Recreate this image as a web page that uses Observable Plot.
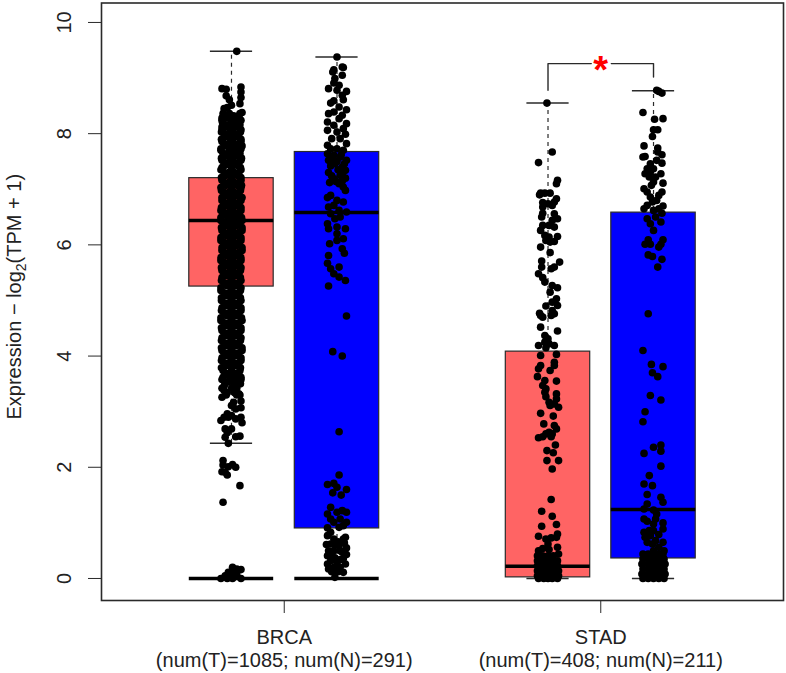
<!DOCTYPE html>
<html><head><meta charset="utf-8">
<style>html,body{margin:0;padding:0;background:#fff}svg{display:block}</style>
<script src="https://cdn.jsdelivr.net/npm/d3@7"></script>
<script src="https://cdn.jsdelivr.net/npm/@observablehq/plot@0.6"></script>
</head><body><div id="chart"></div>
<script>
const cancerTicks = [1.5, 4.5];
const cancerLabels = ["BRCA\n(num(T)=1085; num(N)=291)", "STAD\n(num(T)=408; num(N)=211)"];
const boxPos = [1, 2, 4, 5];
const boxFill = ["#ff6464", "#0000ff", "#ff6464", "#0000ff"];
const q1 = [5.25, 0.9, 0.02, 0.36];
const median = [6.44, 6.58, 0.22, 1.24];
const q3 = [7.2, 7.67, 4.08, 6.58];
const whiskerLow = [2.43, 0, 0, 0];
const whiskerHigh = [9.48, 9.38, 8.55, 8.77];
const zeroBars = [1, 2];
const bracketX = [4, 4, 4.41];
const bracketY = [8.78, 9.26, 9.26];
const bracketX2 = [4.6, 5, 5];
const bracketY2 = [9.26, 9.26, 9.02];

// [jitter, value]
const brcaTSparse = [[.05,9.48],[-.09,8.81],[-.05,8.8],[.09,8.84],[.09,8.75],[-.05,8.68],[.09,8.65],[-.02,8.61],[.08,8.54],[0,8.51],[-.07,8.45],[-.04,8.47],[.1,8.38],
[-.09,3.26],[-.07,3.38],[.07,3.32],[.02,3.17],[.09,3.19],[0,3.11],[.09,3.07],[.04,3.05],[-.04,2.96],[0,2.93],[-.07,2.9],[.09,2.9],[-.1,2.84],[.04,2.87],[.1,2.8],[-.03,2.9],[-.06,2.69],[0,2.69],[-.06,2.54],[.04,2.55],[.08,2.56],[-.03,2.43],[-.04,2.62],
[-.08,2.12],[-.08,2.04],[.01,2.05],[.04,2],[-.03,2.01],[-.09,1.92],[-.06,1.91],[-.04,1.86],[.08,1.67],[-.08,1.37],
[.01,.2],[.09,.16],[.05,.17],[-.03,.11],[.01,.11],[.05,.08],[-.06,.05],[.01,.04],[-.1,0],[.09,0],[-.04,0],[.01,0]];
// [value, jitter, jitter, ...]
const brcaTRows = [[8.36,-.08,-.02,.08],[8.28,-.09,-.04,.05],[8.2,-.085,0,.075],[8.12,-.09,-.045,.05],[8.03,-.095,0,.085],[7.95,-.05,.045],[7.86,-.09,0,.09],[7.78,-.06,.05,.1],[7.7,-.1,-.02,.08],[7.6,-.05,.05],[7.52,-.09,0,.09],[7.43,-.06,.05],[7.35,-.1,0,.09],[7.25,-.05,.05],[7.16,-.09,0,.09],[7.07,-.05,.05,.095],[6.98,-.095,0,.085],[6.89,-.05,.05],[6.8,-.09,0,.09],[6.71,-.05,.05],[6.62,-.1,0,.09],[6.53,-.05,.05],[6.44,-.1,0,.1],[6.35,-.05,.05],[6.26,-.09,0,.1],[6.17,-.05,.05],[6.08,-.1,0,.09],[5.99,-.05,.05],[5.9,-.09,0,.1],[5.81,-.05,.05],[5.72,-.1,0,.09],[5.63,-.05,.05],[5.54,-.09,0,.085],[5.45,-.05,.05],[5.36,-.095,0,.09],[5.27,-.05,.05],[5.18,-.1,0,.085],[5.09,-.05,.05],[5,-.095,0,.09],[4.91,-.05,.05],[4.82,-.095,0,.09],[4.73,-.05,.05],[4.64,-.1,0,.1],[4.55,-.05,.05],[4.46,-.09,0,.09],[4.37,-.05,.05],[4.28,-.095,0,.085],[4.19,-.05,.05],[4.1,-.09,0,.1],[4.01,-.05,.05],[3.92,-.095,0,.09],[3.83,-.05,.05],[3.74,-.08,0,.08],[3.66,-.04,.05],[3.58,-.09,0,.09],[3.5,-.06,.03,.085],[3.42,-.09,0,.05]];
const brcaTFill = [[8.32,-.05,.02,.07],[8.16,-.06,-.01,.03,.08],[8,-.07,-.025,.025,.07],[7.82,-.07,-.025,.025,.07],[7.65,-.08,-.02,.03,.08],[7.48,-.07,-.025,.025,.07],[7.3,-.07,-.025,.025,.07],[7.12,-.07,-.025,.025,.07],[6.94,-.07,-.025,.025,.07],[6.76,-.07,-.025,.025,.07],[6.58,-.07,-.025,.025,.07],[6.4,-.07,-.025,.025,.07],[6.22,-.07,-.025,.025,.07],[6.04,-.07,-.025,.025,.07],[5.86,-.07,-.025,.025,.07],[5.68,-.07,-.025,.025,.07],[5.5,-.07,-.025,.025,.07],[5.32,-.07,-.025,.025,.07],[5.14,-.07,-.025,.025,.07],[4.96,-.07,-.025,.025,.07],[4.78,-.07,-.025,.025,.07],[4.6,-.07,-.025,.025,.07],[4.42,-.07,-.025,.025,.07],[4.24,-.07,-.025,.025,.07],[4.06,-.07,-.025,.025,.07],[3.88,-.07,-.025,.025,.07],[3.7,-.06,.02,.07],[3.54,-.03,.05],[3.34,-.04,.03]];
const brcaTEdge = [[8.24,-.09,.01,.09],[8.07,-.09,0,.09],[7.9,-.095,0,.09],[7.73,-.1,.02,.09],[7.56,-.095,0,.095],[7.39,-.09,0,.085],[7.21,-.095,0,.09],[7.03,-.1,0,.09],[6.85,-.09,0,.1],[6.67,-.095,0,.09],[6.49,-.1,0,.095],[6.31,-.095,0,.1],[6.13,-.1,0,.09],[5.95,-.09,0,.1],[5.77,-.1,0,.09],[5.59,-.095,0,.09],[5.41,-.09,0,.085],[5.23,-.1,0,.09],[5.05,-.095,0,.085],[4.87,-.09,0,.09],[4.69,-.1,0,.095],[4.51,-.095,0,.09],[4.33,-.09,0,.09],[4.15,-.095,0,.1],[3.97,-.09,0,.09],[3.79,-.095,0,.085],[3.62,-.08,0,.09],[3.46,-.07,.02],[3.3,-.05,.05,.08]];
const brcaN = [[0,9.38],[.05,9.2],[-.03,9.15],[.06,9.19],[-.04,9.11],[.05,9.05],[-.02,8.99],[-.03,8.91],[.02,8.87],[-.08,8.81],[.09,8.76],[0,8.78],[.05,8.69],[.06,8.61],[-.03,8.59],[-.06,8.55],[.02,8.48],[.09,8.43],[-.08,8.36],[-.03,8.39],[.05,8.33],[.02,8.27],[-.09,8.21],[.09,8.18],[-.03,8.15],[.06,8.09],[-.09,8.06],[0,8.03],[.08,7.99],[-.05,7.91],[.03,7.91],[-.09,7.79],[.09,7.82],[-.06,7.73],[0,7.73],[.06,7.7],[-.09,7.64],[-.03,7.61],[.03,7.58],[.09,7.52],[-.08,7.52],[-.02,7.46],[.05,7.4],[.08,7.34],[-.08,7.3],[-.03,7.19],[.03,7.25],[.06,7.04],[.02,7.1],[.08,6.98],[-.06,6.89],[-.09,6.85],[0,6.8],[.06,6.77],[-.03,6.71],[-.08,6.68],[.02,6.62],[.09,6.59],[-.06,6.56],[-.02,6.47],[-.09,6.38],[.03,6.5],[-.08,6.29],[0,6.32],[.08,6.29],[0,6.2],[.06,6.11],[0,6.08],[-.07,6.02],[.05,5.93],[.07,5.85],[-.08,5.81],[-.09,5.67],[.02,5.6],[-.06,5.57],[-.03,5.48],[.02,5.42],[.08,5.36],[-.08,5.26],
[.04,7.62],[-.05,7.55],[0,7.5],[.07,7.46],[-.06,7.42],[.01,7.35],[.05,7.29],[-.05,7.24],[.08,7.2],[-.01,7.14],[-.07,7.12],[.05,7.15],
[.09,4.72],[-.04,4.08],[.05,4],[.02,2.64],[.02,1.86],[-.09,1.69],[-.03,1.71],[0,1.64],[.09,1.6],[-.04,1.54],[.04,1.5],[-.06,1.28],[.05,1.22],[.09,1.19],[0,1.19],[-.09,1.16],[-.06,1.07],[-.03,1.01],[.03,1.07],[.09,1.01],[.06,.95],[.02,.92],[-.09,.91],
[-.06,.83],[.08,.74],[-.09,.77],[-.03,.71],[-.06,.62],[.06,.71],[-.1,.61],[.02,.59],[.09,.55],[-.03,.5],[-.09,.41],[.05,.47],[.09,.43],[-.02,.37],[-.06,.32],[.03,.34],[-.09,.26],[.08,.26],[-.03,.2],[.03,.2],[-.08,.17],[.06,.11],[-.02,.02],[.01,.66],[-.02,.6],[.03,.5],[-.05,.44],[.06,.36],[0,.28],[-.05,.12],[.01,.12],[.07,.64],[-.08,.5]];
const stadT = [[-.01,8.55],[.04,7.67],[-.09,7.48],[.09,7.16],[.08,7.1],[-.07,6.93],[-.03,6.93],[.02,6.93],[-.08,6.9],[.08,6.83],[.06,6.77],[-.05,6.76],[0,6.74],[.04,6.71],[-.05,6.68],[-.05,6.57],[.06,6.56],[-.06,6.5],[.09,6.47],[.04,6.44],[.01,6.35],[-.05,6.35],[-.07,6.26],[.06,6.32],[-.03,6.17],[.09,6.15],[.01,6.14],[-.02,6.08],[.06,6.06],[.02,6.05],[-.07,5.96],[.02,5.86],[-.06,5.71],[.11,5.69],[.06,5.6],[.03,5.57],[-.06,5.6],[-.09,5.48],[-.05,5.41],[-.03,5.33],[.04,5.27],[.09,5.23],[.02,5.15],[.08,5.03],[.04,4.97],[.09,4.91],[-.02,4.9],[.04,4.82],[-.08,4.77],[-.05,4.7],[.03,4.73],
[-.07,4.73],[.06,4.76],[-.07,4.52],[.09,4.45],[-.03,4.37],[0,4.31],[-.09,4.19],[-.03,4.25],[.06,4.19],[.01,4.22],[-.02,4.15],[-.07,4.01],[.08,4.03],[.06,3.89],[-.07,3.83],[.06,3.83],[.02,3.74],[-.09,3.77],[-.1,3.63],[-.03,3.56],[.08,3.55],[-.05,3.47],[-.02,3.41],[-.03,3.35],[.08,3.32],[-.02,3.27],[.08,3.23],[.01,3.17],[.06,3.14],[.02,3.11],[.1,3.08],[-.07,2.97],[.05,2.92],[-.04,2.78],[.06,2.75],[.08,2.69],[.01,2.63],[-.02,2.6],[.04,2.6],[-.05,2.55],[-.09,2.53],[.03,2.55],[.07,2.4],[-.01,2.3],[.05,2.26],[-.01,2.12],[.1,2.12],[.04,1.97],
[.03,1.42],[-.06,1.21],[.04,1.12],[-.06,.94],[.08,.97],[-.09,.76],[.09,.8],[-.02,.71],[.03,.73],[.08,.74],[0,.62],
[-.09,.5],[-.05,.54],[.01,.52],[.09,.56],[-.1,.41],[-.05,.41],[0,.41],[.05,.41],[.1,.44],[-.1,.32],[-.05,.32],[0,.32],[.05,.32],[.09,.32],[-.1,.23],[-.05,.23],[0,.23],[.05,.23],[.09,.23],[-.1,.14],[-.05,.14],[0,.14],[.05,.14],[.1,.14],[-.1,.05],[-.05,.05],[0,.05],[.05,.05],[.1,.05],[-.09,0],[-.04,0],[0,0],[.04,0],[.09,0]];
const stadN = [[.03,8.78],[.08,8.73],[.05,8.76],[-.1,8.38],[.01,8.26],[.09,8.27],[0,8.07],[.04,8.07],[-.01,7.95],[-.09,7.78],[.04,7.74],[.04,7.67],[.08,7.62],[-.08,7.59],[-.1,7.58],[.03,7.52],[.08,7.47],[-.03,7.46],[-.06,7.37],[0,7.37],[-.08,7.28],[.07,7.28],[-.03,7.31],[.02,7.22],[-.04,7.22],[0,7.13],[.09,7.11],[-.02,7.07],[-.09,7.01],[-.06,6.95],[.08,6.95],[.05,6.89],[-.03,6.86],[.03,6.8],[-.01,6.77],[-.06,6.71],[.09,6.7],[.05,6.65],[-.09,6.65],[0,6.62],[.08,6.57],[-.06,6.47],[.02,6.5],[.07,6.41],[-.03,6.38],[0,6.26],[-.05,6.09],[.09,6.09],[-.08,6.01],[-.03,6.01],[.07,6.01],[.05,5.96],[-.05,5.82],[-.01,5.79],[.08,5.74],[.04,5.6],[-.05,4.76],
[-.1,4.1],[-.02,3.85],[.09,3.81],[-.01,3.7],[.04,3.63],[-.03,3.29],[.07,3.21],[-.08,3],[-.1,2.82],[.07,2.4],[0,2.36],[.07,2.29],[-.09,2.25],[.07,2.02],[-.04,1.85],[-.01,1.67],[-.09,1.7],[-.06,1.51],[.07,1.46],[.09,1.37],[-.06,1.34],[-.09,1.25],[0,1.23],[.03,1.16],[-.09,1.07],[-.06,1.03],[.02,1.07],[.09,1],[0,.98],[.09,.89],[-.09,.83],[-.04,.86],[0,.86],[.05,.79],[-.08,.74],[-.03,.77],[.02,.68],[.09,.65],[-.06,.65],[-.01,.62],[.05,.56],[.1,.5],[0,.5],
[-.1,.44],[-.05,.44],[0,.44],[.05,.44],[.09,.44],[-.1,.35],[-.05,.35],[0,.35],[.05,.35],[.1,.35],[-.11,.26],[-.05,.26],[0,.26],[.05,.26],[.11,.26],[-.1,.17],[-.05,.17],[0,.17],[.05,.17],[.1,.17],[-.11,.08],[-.05,.08],[0,.08],[.05,.08],[.11,.08],[-.1,0],[-.05,0],[0,0],[.05,0],[.1,0]];

const boxes = boxPos.map((p, i) => ({p, fill: boxFill[i], q1: q1[i], med: median[i], q3: q3[i], lo: whiskerLow[i], hi: whiskerHigh[i]}));
const rowsToPts = rows => rows.flatMap(([v, ...js]) => js.map(j => ({x: boxPos[0] + j, y: v})));
const pts = [
  ...brcaTSparse.map(([j, v]) => ({x: boxPos[0] + j, y: v})),
  ...rowsToPts(brcaTRows), ...rowsToPts(brcaTFill), ...rowsToPts(brcaTEdge),
  ...brcaN.map(([j, v]) => ({x: boxPos[1] + j, y: v})),
  ...stadT.map(([j, v]) => ({x: boxPos[2] + j, y: v})),
  ...stadN.map(([j, v]) => ({x: boxPos[3] + j, y: v}))
];
const ink = "#2a2a2a";
const chart = Plot.plot({
  width: 786, height: 673,
  marginLeft: 101, marginRight: 3, marginTop: 2.5, marginBottom: 73,
  x: {type: "linear", domain: [-0.232, 6.232]},
  y: {domain: [-0.396, 10.35]},
  style: {fontFamily: "'Liberation Sans', Arial, sans-serif", fontSize: "20px", background: "#fff", color: "#222"},
  marks: [
    Plot.ruleX(boxes, {x: "p", y1: "lo", y2: "hi", stroke: ink, strokeWidth: 1.2, strokeDasharray: "4 4"}),
    Plot.ruleY(boxes, {y: "lo", x1: d => d.p - .2, x2: d => d.p + .2, stroke: ink, strokeWidth: 1.5}),
    Plot.ruleY(boxes, {y: "hi", x1: d => d.p - .2, x2: d => d.p + .2, stroke: ink, strokeWidth: 1.5}),
    Plot.rect(boxes, {x1: d => d.p - .4, x2: d => d.p + .4, y1: "q1", y2: "q3", fill: "fill", stroke: ink, strokeWidth: 1.2}),
    Plot.ruleY(boxes, {y: "med", x1: d => d.p - .4, x2: d => d.p + .4, stroke: "#000", strokeWidth: 3.5}),
    Plot.ruleY(zeroBars, {y: () => 0, x1: d => d - .4, x2: d => d + .4, stroke: "#000", strokeWidth: 3.5}),
    Plot.dot(pts, {x: "x", y: "y", r: 3.8, fill: "#000"}),
    Plot.line(bracketX.map((x, i) => ({x, y: bracketY[i]})), {x: "x", y: "y", stroke: ink, strokeWidth: 1.4}),
    Plot.line(bracketX2.map((x, i) => ({x, y: bracketY2[i]})), {x: "x", y: "y", stroke: ink, strokeWidth: 1.4}),
    Plot.text(["*"], {x: () => 4.5, y: () => 9.13, text: d => d, fill: "#ff0000", fontSize: 38, fontWeight: "bold"}),
    Plot.axisY({ticks: [0, 2, 4, 6, 8, 10], tickSize: 13, tickPadding: 18, tickRotate: -90, label: null, stroke: ink, textAnchor: "middle", fontSize: 20}),
    Plot.axisX({ticks: cancerTicks, tickFormat: d => cancerLabels[cancerTicks.indexOf(d)], tickSize: 13, tickPadding: 14, label: null, stroke: ink, fontSize: 20, lineHeight: 1.15}),
    Plot.text(["Expression \u2212 log"], {frameAnchor: "left", dx: -87, dy: -5, rotate: -90, text: d => d, fontSize: 20, fill: "#222", textAnchor: "middle", className: "ylab"}),
    Plot.frame({stroke: ink, strokeWidth: 1.6})
  ]
});
document.getElementById("chart").append(chart);
// y title with a real subscript
const t = chart.querySelector(".ylab text");
if (t) {
  t.textContent = "Expression \u2212 log";
  const ns = "http://www.w3.org/2000/svg";
  const sub = document.createElementNS(ns, "tspan");
  sub.setAttribute("font-size", "14");
  sub.setAttribute("dy", "5");
  sub.textContent = "2";
  const rest = document.createElementNS(ns, "tspan");
  rest.setAttribute("dy", "-5");
  rest.textContent = "(TPM + 1)";
  t.append(sub, rest);
}
</script></body></html>
